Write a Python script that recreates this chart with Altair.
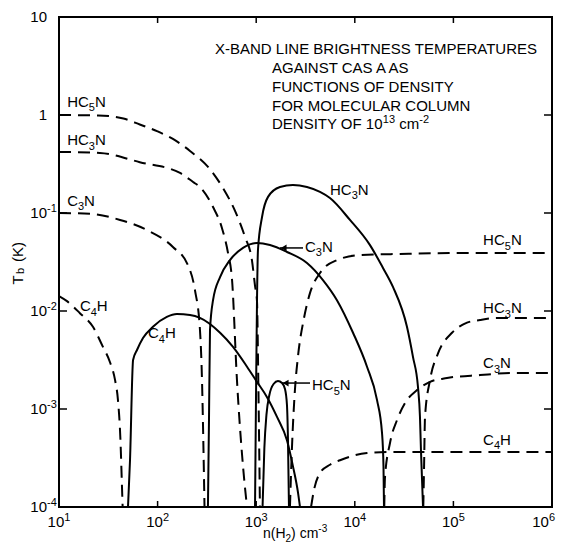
import altair as alt
import pandas as pd

FONT = "Liberation Sans"

# ---------------- curve data: n(H2) [cm^-3] and Tb [K] ----------------
# dashed curves (low density side)
hc5n_lo_x = [10, 25, 45, 66, 100, 143, 213, 340, 460, 610, 770, 905, 973, 1019, 1050, 1091]
hc5n_lo_y = [1.0, 0.99, 0.92, 0.80, 0.68, 0.57, 0.43, 0.28, 0.18, 0.105, 0.057, 0.033, 0.018, 0.0125, 0.002, 0.0001]

hc3n_lo_x = [10, 26, 66, 169, 229, 269, 365, 450, 518, 569, 638, 735, 807]
hc3n_lo_y = [0.42, 0.41, 0.33, 0.256, 0.207, 0.184, 0.115, 0.070, 0.039, 0.0207, 0.00198, 0.00026, 0.0001]

c3n_lo_x = [10, 20.6, 41.6, 78, 143, 203, 239, 269, 282, 292, 299]
c3n_lo_y = [0.1, 0.098, 0.085, 0.067, 0.045, 0.0294, 0.0164, 0.0064, 0.00198, 0.00038, 0.0001]

c4h_lo_x = [10, 12.05, 16.3, 22.1, 27.9, 32.9, 37.0, 39.6, 42.0, 43.3, 44.2]
c4h_lo_y = [0.0142, 0.0126, 0.0095, 0.0069, 0.0043, 0.0030, 0.00198, 0.00124, 0.00048, 0.00019, 0.0001]

# dashed curves (high density side)
hc5n_hi_x = [2200, 2300, 2470, 2650, 3055, 3516, 4436, 6607, 11300, 28700, 92500, 1000000]
hc5n_hi_y = [0.0001, 0.00038, 0.00156, 0.0034, 0.0085, 0.0153, 0.0244, 0.0331, 0.0372, 0.0382, 0.039, 0.039]

hc3n_hi_x = [49500, 50350, 51520, 57940, 69820, 96800, 137400, 186200, 276700, 1000000]
hc3n_hi_y = [0.0001, 0.00024, 0.00083, 0.00198, 0.0037, 0.006, 0.0076, 0.0081, 0.0085, 0.0085]

c3n_hi_x = [19900, 20230, 22750, 26800, 32300, 42760, 57940, 86100, 186200, 401800, 1000000]
c3n_hi_y = [0.0001, 0.0002, 0.00045, 0.00077, 0.00115, 0.00156, 0.00189, 0.00207, 0.00222, 0.00233, 0.00233]

c4h_hi_x = [3600, 3855, 4436, 5598, 7080, 13300, 21230, 1000000]
c4h_hi_y = [0.0001, 0.000149, 0.000222, 0.00027, 0.0003, 0.000356, 0.000364, 0.000364]

# solid curves
c4h_x = [50.1, 52.5, 56.4, 61.8, 71.1, 89.7, 124, 157, 213, 269, 430, 582, 807, 1019, 1288, 1626, 2051, 2360, 2655, 2780]
c4h_y = [0.0001, 0.0003, 0.00316, 0.0040, 0.0053, 0.0069, 0.0087, 0.0093, 0.0091, 0.0085, 0.0060, 0.0043,
         0.0027, 0.00189, 0.00132, 0.00083, 0.00048, 0.00026, 0.00014, 0.0001]

c3n_x = [324, 332, 340, 365, 430, 542, 735, 1019, 1380, 2051, 3273, 4753, 6592, 9594, 13300, 16790, 18880, 19540, 19770]
c3n_y = [0.0001, 0.00077, 0.0064, 0.0129, 0.0222, 0.0331, 0.0440, 0.0494, 0.0471, 0.0400, 0.0309, 0.0207,
         0.0129, 0.0060, 0.0027, 0.00124, 0.00057, 0.00026, 0.0001]

hc3n_x = [973, 995, 1019, 1042, 1146, 1318, 1742, 2360, 3273, 4436, 5598, 8930, 14260, 19320, 24380, 33810,
          38900, 43750, 45810, 46880, 49200]
hc3n_y = [0.0001, 0.00124, 0.0129, 0.0419, 0.091, 0.146, 0.184, 0.193, 0.184, 0.164, 0.142, 0.085, 0.047,
          0.0275, 0.0176, 0.0069, 0.0034, 0.00167, 0.00083, 0.00038, 0.0001]

hc5n_x = [1160, 1210, 1270, 1360, 1500, 1663, 1828, 1959, 2051, 2099, 2150]
hc5n_y = [0.0001, 0.0004, 0.00087, 0.00139, 0.0018, 0.00193, 0.00184, 0.0016, 0.0011, 0.0005, 0.0001]

# ---------------- annotations ("_x" = subscript, "^{..}" = superscript) ----------------
label_text = ["HC_5N", "HC_3N", "C_3N", "C_4H", "C_4H", "HC_3N", "C_3N", "HC_5N", "HC_5N", "HC_3N", "C_3N", "C_4H"]
label_x = [12.1, 12.1, 12.1, 16.3, 80, 5600, 3130, 3680, 2.0e5, 2.0e5, 2.0e5, 2.0e5]
label_y = [1.21, 0.49, 0.118, 0.0100, 0.0053, 0.153, 0.040, 0.00156, 0.047, 0.0095, 0.0026, 0.00043]

arrow_tail_x = [2985, 3515]
arrow_tip_x = [1742, 1828]
arrow_head_x = [1900, 1990]
arrow_y = [0.044, 0.00184]

title_lines = ["X-BAND LINE BRIGHTNESS TEMPERATURES", "AGAINST CAS A AS", "FUNCTIONS OF DENSITY",
               "FOR MOLECULAR COLUMN", "DENSITY OF 10^{13} cm^{-2}"]
title_x = [382, 1445, 1445, 1445, 1445]
title_y = [4.19, 2.68, 1.72, 1.10, 0.72]

x_ticks = [10, 100, 1000, 10000, 100000, 1000000]
x_tick_text = ["10^{1}", "10^{2}", "10^{3}", "10^{4}", "10^{5}", "10^{6}"]
y_ticks = [0.0001, 0.001, 0.01, 0.1, 1, 10]
y_tick_text = ["10^{-4}", "10^{-3}", "10^{-2}", "10^{-1}", "1", "10"]
x_title = "n(H_2) cm^{-3}"
x_title_at = 1172

# ---------------- rich-text helper (Helvetica-metric widths) ----------------
WID = {" ": 278, "-": 333, "(": 333, ")": 333, "c": 500, "m": 833, "n": 556, "b": 556, "I": 278,
       "H": 722, "C": 722, "N": 722, "D": 722, "U": 722, "R": 722, "K": 667, "A": 667, "B": 667,
       "E": 667, "S": 667, "X": 667, "P": 667, "Y": 667, "T": 611, "F": 611, "L": 556, "M": 833,
       "O": 778, "G": 778}


def text_width(s, size):
    return sum(WID.get(ch, 556) for ch in s) / 1000.0 * size


def parse(markup):
    segs, buf, i = [], "", 0
    while i < len(markup):
        c = markup[i]
        if c in "_^":
            if buf:
                segs.append((buf, "n"))
                buf = ""
            kind = "sub" if c == "_" else "sup"
            if markup[i + 1] == "{":
                j = markup.index("}", i)
                segs.append((markup[i + 2:j], kind))
                i = j + 1
            else:
                segs.append((markup[i + 1], kind))
                i += 2
        else:
            buf += c
            i += 1
    if buf:
        segs.append((buf, "n"))
    return segs


def rich_rows(markup, n, tb, size, anchor="left", dx0=0.0, dy0=0.0):
    segs = parse(markup)
    small = round(size * 0.72)
    sizes = [size if k == "n" else small for _, k in segs]
    widths = [text_width(t, s) for (t, _), s in zip(segs, sizes)]
    if anchor == "center":
        x = dx0 - sum(widths) / 2
    elif anchor == "right":
        x = dx0 - sum(widths)
    elif anchor == "right-first":
        x = dx0 - widths[0]
    else:
        x = dx0
    rows = []
    for (t, k), s, w in zip(segs, sizes, widths):
        lead = len(t) - len(t.lstrip(" "))
        dy = dy0 + (0.30 * size if k == "sub" else -0.42 * size if k == "sup" else 0)
        rows.append({"text": t.strip(" "), "n": n, "tb": tb,
                     "dx": round(x + text_width(" " * lead, s), 1), "dy": round(dy, 1), "size": s})
        x += w
    return rows


def frame(name, xs, ys):
    return pd.DataFrame({"curve": name, "n": xs, "tb": ys})


dashed_df = pd.concat([
    frame("HC5N lo", hc5n_lo_x, hc5n_lo_y), frame("HC3N lo", hc3n_lo_x, hc3n_lo_y),
    frame("C3N lo", c3n_lo_x, c3n_lo_y), frame("C4H lo", c4h_lo_x, c4h_lo_y),
    frame("HC5N hi", hc5n_hi_x, hc5n_hi_y), frame("HC3N hi", hc3n_hi_x, hc3n_hi_y),
    frame("C3N hi", c3n_hi_x, c3n_hi_y), frame("C4H hi", c4h_hi_x, c4h_hi_y),
])
solid_df = pd.concat([
    frame("C4H", c4h_x, c4h_y), frame("C3N", c3n_x, c3n_y),
    frame("HC3N", hc3n_x, hc3n_y), frame("HC5N", hc5n_x, hc5n_y),
])
arrow_df = pd.DataFrame({"n": arrow_tail_x, "n2": arrow_tip_x, "head": arrow_head_x, "tb": arrow_y})

rows = []
for t, xv, yv in zip(label_text, label_x, label_y):
    rows += rich_rows(t, xv, yv, 15)
for t, xv, yv in zip(title_lines, title_x, title_y):
    rows += rich_rows(t, xv, yv, 15)
for i, (t, xv) in enumerate(zip(x_tick_text, x_ticks)):
    if i == len(x_ticks) - 1:   # keep the last label inside the page
        rows += rich_rows(t, xv, y_ticks[0], 15, anchor="right", dx0=3, dy0=20)
    else:
        rows += rich_rows(t, xv, y_ticks[0], 15, anchor="center", dy0=20)
for t, yv in zip(y_tick_text, y_ticks):
    rows += rich_rows(t, x_ticks[0], yv, 15, anchor="right-first", dx0=-12, dy0=5)
rows += rich_rows(x_title, x_title_at, y_ticks[0], 14, dy0=31)
text_df = pd.DataFrame(rows)

xt_df = pd.DataFrame({"n": x_ticks[1:-1]})
yt_df = pd.DataFrame({"tb": y_ticks[1:-1]})

XS = alt.Scale(type="log", domain=[10, 1000000])
YS = alt.Scale(type="log", domain=[0.0001, 10])
X = alt.X("n:Q", scale=XS, axis=None)
Y = alt.Y("tb:Q", scale=YS, axis=None)

dashed = alt.Chart(dashed_df).mark_line(
    strokeDash=[12, 7], strokeWidth=2, color="black", interpolate="monotone", clip=True
).encode(x=X, y=Y, detail="curve:N")

solid = alt.Chart(solid_df).mark_line(
    strokeWidth=2, color="black", interpolate="monotone", clip=True
).encode(x=X, y=Y, detail="curve:N")

# text pieces: one layer per (offset, size) group so that dx / dy / fontSize are plain mark styles
text_layers = []
for (dx, dy, s), grp in text_df.groupby(["dx", "dy", "size"]):
    text_layers.append(
        alt.Chart(grp[["text", "n", "tb"]]).mark_text(
            font=FONT, fontSize=float(s), dx=float(dx), dy=float(dy),
            align="left", baseline="alphabetic", color="black"
        ).encode(x=X, y=Y, text="text:N")
    )

arrow_lines = alt.Chart(arrow_df).mark_rule(strokeWidth=1.5, color="black").encode(
    x=X, x2="n2:Q", y=Y)
arrow_heads = alt.Chart(arrow_df).mark_point(
    shape="triangle-left", filled=True, size=45, color="black", opacity=1
).encode(x=alt.X("head:Q", scale=XS, axis=None), y=Y)

# inward ticks on all four sides
tick_style = dict(color="black", strokeWidth=1.5)
ticks_bottom = alt.Chart(xt_df).mark_rule(**tick_style).encode(x=X, y=alt.value(490), y2=alt.value(484))
ticks_top = alt.Chart(xt_df).mark_rule(**tick_style).encode(x=X, y=alt.value(0), y2=alt.value(6))
ticks_left = alt.Chart(yt_df).mark_rule(**tick_style).encode(y=Y, x=alt.value(0), x2=alt.value(8))
ticks_right = alt.Chart(yt_df).mark_rule(**tick_style).encode(y=Y, x=alt.value(493), x2=alt.value(485))

one = alt.Data(values=[{"k": 1}])
ytitle_T = alt.Chart(one).mark_text(font=FONT, fontSize=15, angle=270, align="center",
                                    baseline="middle", color="black", text="T").encode(
    x=alt.value(-41), y=alt.value(263))
ytitle_b = alt.Chart(one).mark_text(font=FONT, fontSize=11, angle=270, align="center",
                                    baseline="middle", color="black", text="b").encode(
    x=alt.value(-38), y=alt.value(254))
ytitle_K = alt.Chart(one).mark_text(font=FONT, fontSize=15, angle=270, align="center",
                                    baseline="middle", color="black", text="(K)").encode(
    x=alt.value(-41), y=alt.value(235))

chart = alt.layer(
    dashed, solid, *text_layers, arrow_lines, arrow_heads,
    ticks_bottom, ticks_top, ticks_left, ticks_right,
    ytitle_T, ytitle_b, ytitle_K
).properties(
    width=493, height=490,
    autosize=alt.AutoSizeParams(type="none"),
    padding={"left": 51, "top": 9, "right": 4, "bottom": 36},
).configure_view(
    stroke="black", strokeWidth=2
)

chart.save("out.html", embed_options={"renderer": "svg", "actions": False})
